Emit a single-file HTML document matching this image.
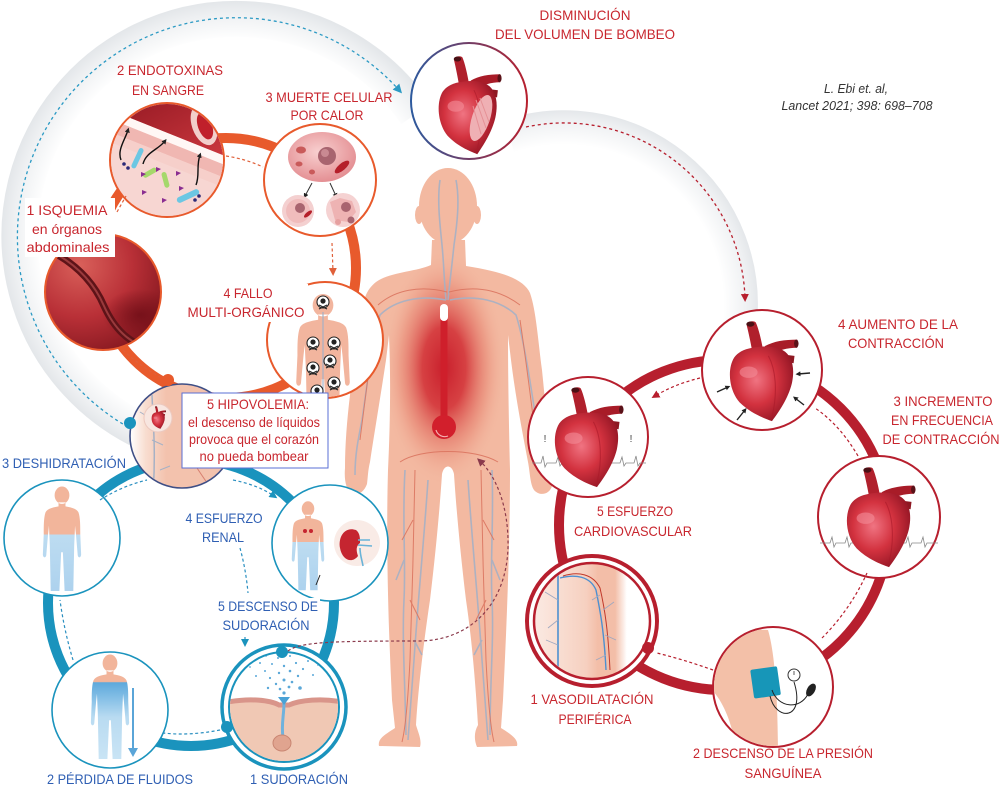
<!DOCTYPE html>
<html><head><meta charset="utf-8"><style>html,body{margin:0;padding:0;background:#fff}svg{display:block}</style></head><body>
<svg width="1000" height="790" viewBox="0 0 1000 790" xmlns="http://www.w3.org/2000/svg" xmlns:xlink="http://www.w3.org/1999/xlink" style="font-family:'Liberation Sans',sans-serif">
<defs>
<radialGradient id="haloL" gradientUnits="userSpaceOnUse" cx="236" cy="236" r="234"><stop offset="0.84" stop-color="#fff"/><stop offset="0.95" stop-color="#eef0f2"/><stop offset="1" stop-color="#e4e7ea"/></radialGradient>
<radialGradient id="haloR" gradientUnits="userSpaceOnUse" cx="564" cy="304" r="194"><stop offset="0.82" stop-color="#fff"/><stop offset="0.95" stop-color="#eef0f2"/><stop offset="1" stop-color="#e4e7ea"/></radialGradient>
<radialGradient id="hg" cx="0.42" cy="0.45" r="0.65"><stop offset="0" stop-color="#f07482"/><stop offset="0.5" stop-color="#d3323f"/><stop offset="1" stop-color="#8e1322"/></radialGradient>
<radialGradient id="glow" cx="0.5" cy="0.5" r="0.5"><stop offset="0" stop-color="#c91f2c"/><stop offset="0.35" stop-color="#d33338" stop-opacity="0.9"/><stop offset="0.7" stop-color="#e57a68" stop-opacity="0.45"/><stop offset="1" stop-color="#f3b9a1" stop-opacity="0"/></radialGradient>
<radialGradient id="isq" gradientUnits="userSpaceOnUse" cx="80" cy="265" r="95"><stop offset="0" stop-color="#d9605a"/><stop offset="0.55" stop-color="#b93037"/><stop offset="1" stop-color="#861820"/></radialGradient>
<radialGradient id="isqd" cx="0.5" cy="0.5" r="0.5"><stop offset="0" stop-color="#6e0d16" stop-opacity="0.8"/><stop offset="1" stop-color="#6e0d16" stop-opacity="0"/></radialGradient>
<radialGradient id="cell" cx="0.45" cy="0.4" r="0.6"><stop offset="0" stop-color="#f8d0d0"/><stop offset="1" stop-color="#e48f93"/></radialGradient>
<linearGradient id="topRing" x1="0" x2="1" y1="0" y2="0"><stop offset="0" stop-color="#2d5a9e"/><stop offset="1" stop-color="#b7202e"/></linearGradient>
<linearGradient id="vessel" x1="0" x2="1" y1="0" y2="1"><stop offset="0" stop-color="#8e1520"/><stop offset="1" stop-color="#cf3a40"/></linearGradient>
<linearGradient id="gDes" x1="0" x2="0" y1="0" y2="1"><stop offset="0" stop-color="#f2b59b"/><stop offset="0.46" stop-color="#f2b59b"/><stop offset="0.46" stop-color="#bddcf1"/><stop offset="1" stop-color="#add2ee"/></linearGradient>
<linearGradient id="gPer" x1="0" x2="0" y1="0" y2="1"><stop offset="0" stop-color="#f2b59b"/><stop offset="0.26" stop-color="#f2b59b"/><stop offset="0.27" stop-color="#5ea9dc"/><stop offset="0.45" stop-color="#8ec4e8"/><stop offset="0.6" stop-color="#b9dbf1"/><stop offset="1" stop-color="#c9e4f5"/></linearGradient>
<linearGradient id="gVas" x1="0" x2="1" y1="0" y2="0"><stop offset="0" stop-color="#fbeae3"/><stop offset="0.45" stop-color="#f6d0c0"/><stop offset="0.55" stop-color="#f3bea8"/><stop offset="0.7" stop-color="#f3bea8"/><stop offset="0.8" stop-color="#fff"/><stop offset="1" stop-color="#fff"/></linearGradient>
<linearGradient id="gHip" x1="0" x2="1" y1="0" y2="0"><stop offset="0" stop-color="#fff"/><stop offset="0.15" stop-color="#f8ddd0"/><stop offset="0.35" stop-color="#f3c2ad"/><stop offset="1" stop-color="#f3c2ad"/></linearGradient>
<marker id="mTeal" viewBox="0 0 10 10" refX="5" refY="5" markerWidth="9" markerHeight="9" orient="auto" markerUnits="userSpaceOnUse"><path d="M0,0 L10,5 L0,10 z" fill="#2b9ac4"/></marker>
<marker id="mBlue" viewBox="0 0 10 10" refX="5" refY="5" markerWidth="8" markerHeight="8" orient="auto" markerUnits="userSpaceOnUse"><path d="M0,0 L10,5 L0,10 z" fill="#1a93bd"/></marker>
<marker id="mRed" viewBox="0 0 10 10" refX="5" refY="5" markerWidth="8" markerHeight="8" orient="auto" markerUnits="userSpaceOnUse"><path d="M0,0 L10,5 L0,10 z" fill="#b71f2e"/></marker>
<marker id="mOr" viewBox="0 0 10 10" refX="5" refY="5" markerWidth="8" markerHeight="8" orient="auto" markerUnits="userSpaceOnUse"><path d="M0,0 L10,5 L0,10 z" fill="#e0603a"/></marker>
<marker id="mDk" viewBox="0 0 10 10" refX="5" refY="5" markerWidth="8" markerHeight="8" orient="auto" markerUnits="userSpaceOnUse"><path d="M0,0 L10,5 L0,10 z" fill="#8b3a4c"/></marker>
<marker id="mBk" viewBox="0 0 10 10" refX="5" refY="5" markerWidth="5" markerHeight="5" orient="auto" markerUnits="userSpaceOnUse"><path d="M0,0 L10,5 L0,10 z" fill="#222"/></marker>
<symbol id="heart" viewBox="0 0 80 125" preserveAspectRatio="none">
 <path d="M28,38 C26,26 24,16 22,7 C21,2 29,0 32,3 C35,10 38,24 40,36 Z" fill="#b0202c"/>
 <ellipse cx="26" cy="5" rx="4.5" ry="3.2" fill="#4a1015"/>
 <path d="M42,32 C52,26 64,24 78,24 L78,34 C66,34 58,37 50,42 Z" fill="#a81c28"/>
 <path d="M60,42 L75,44 L74,53 L62,51 Z" fill="#8e1822"/>
 <ellipse cx="77" cy="29" rx="2.5" ry="5" fill="#5a1218"/>
 <path d="M8,46 C0,60 2,86 14,101 C26,114 40,120 50,124 C58,112 68,96 72,78 C76,58 72,43 62,37 C52,31 38,32 28,34 C18,36 12,40 8,46 Z" fill="url(#hg)"/>
 <ellipse cx="24" cy="64" rx="10" ry="7" fill="#f38c98" opacity="0.6"/>
 <path d="M46,44 C55,62 56,92 50,118" stroke="#a8192a" stroke-width="1.2" fill="none" opacity="0.6"/>
</symbol>
<symbol id="person" viewBox="-23 -10 46 106" preserveAspectRatio="none">
 <path d="M-8.5,0 A8.5,8.5 0 1,0 8.5,0 A8.5,8.5 0 1,0 -8.5,0 Z M-4,7 L4,7 L4,11 C10,12 17,13 19,17 C21,22 21,30 21,38 L22,58 C22,62 18,62 18,58 L16,38 L15,30 L14,50 L13,94 L3,94 L1,56 L-1,56 L-3,94 L-13,94 L-14,50 L-15,30 L-16,38 L-18,58 C-18,62 -22,62 -22,58 L-21,38 C-21,30 -21,22 -19,17 C-17,13 -10,12 -4,11 Z"/>
</symbol>
<clipPath id="cBody">
 <path d="M432,240 L431,265 C415,272 390,272 376,282 C366,290 363,300 362,315 C358,345 353,370 350,395 C347,420 345,445 345,468 C344,480 346,490 352,494 C358,496 364,492 367,484 C368,476 368,470 370,462 C374,435 380,400 386,360 L389,335 C391,380 390,430 388,470 C386,540 388,620 392,700 L395,728 C388,733 377,738 379,746 L420,747 C422,740 418,732 416,725 C418,690 424,640 430,600 C436,550 440,505 442,474 C444,464 452,464 454,474 C456,505 460,550 466,600 C472,640 476,690 478,725 C474,732 474,740 477,747 L517,746 C519,739 509,733 501,728 L503,700 C507,620 510,540 510,470 C509,430 508,380 508,335 L511,360 C516,400 522,430 528,462 C530,472 530,484 534,490 C540,497 550,494 552,486 C553,476 552,468 550,460 C548,430 545,400 542,370 C538,340 536,310 530,293 C524,280 505,272 466,266 L465,240 Z"/>
 <ellipse cx="448" cy="206" rx="29" ry="38"/>
</clipPath>
<clipPath id="cN2"><circle cx="167" cy="160" r="56"/></clipPath>
<clipPath id="cN3"><circle cx="320" cy="180" r="55"/></clipPath>
<clipPath id="cN4"><circle cx="325" cy="340" r="57"/></clipPath>
<clipPath id="cIsq"><circle cx="103" cy="292" r="57"/></clipPath>
<clipPath id="cHip"><circle cx="182" cy="436" r="51"/></clipPath>
<clipPath id="cDes"><circle cx="62" cy="538" r="57"/></clipPath>
<clipPath id="cPer"><circle cx="110" cy="710" r="57"/></clipPath>
<clipPath id="cRen"><circle cx="330" cy="543" r="57"/></clipPath>
<clipPath id="cSud"><circle cx="284" cy="707" r="54"/></clipPath>
<clipPath id="cVas"><circle cx="592" cy="621" r="56.5"/></clipPath>
<clipPath id="cPre"><circle cx="773" cy="687" r="59"/></clipPath>
</defs>

<rect width="1000" height="790" fill="#fff"/>

<!-- halos -->
<path d="M155,437 A217,217 0 1 1 416,114" fill="none" stroke="url(#haloL)" stroke-width="36"/>
<path d="M509,136 A177,177 0 0 1 740,322" fill="none" stroke="url(#haloR)" stroke-width="34"/>

<!-- big dashed arcs -->
<path d="M128,427 A219,219 0 1 1 399,90" fill="none" stroke="#2b9ac4" stroke-width="1.3" stroke-dasharray="3 3" marker-end="url(#mTeal)"/>
<path d="M526,127 A181,181 0 0 1 745,298" fill="none" stroke="#b71f2e" stroke-width="1.3" stroke-dasharray="3 3" marker-end="url(#mRed)"/>

<!-- body -->
<g>
 <path fill="#f3b9a1" d="M432,240 L431,265 C415,272 390,272 376,282 C366,290 363,300 362,315 C358,345 353,370 350,395 C347,420 345,445 345,468 C344,480 346,490 352,494 C358,496 364,492 367,484 C368,476 368,470 370,462 C374,435 380,400 386,360 L389,335 C391,380 390,430 388,470 C386,540 388,620 392,700 L395,728 C388,733 377,738 379,746 L420,747 C422,740 418,732 416,725 C418,690 424,640 430,600 C436,550 440,505 442,474 C444,464 452,464 454,474 C456,505 460,550 466,600 C472,640 476,690 478,725 C474,732 474,740 477,747 L517,746 C519,739 509,733 501,728 L503,700 C507,620 510,540 510,470 C509,430 508,380 508,335 L511,360 C516,400 522,430 528,462 C530,472 530,484 534,490 C540,497 550,494 552,486 C553,476 552,468 550,460 C548,430 545,400 542,370 C538,340 536,310 530,293 C524,280 505,272 466,266 L465,240 Z"/>
 <ellipse cx="448" cy="206" rx="29" ry="38" fill="#f3b9a1"/>
 <ellipse cx="419" cy="215" rx="4" ry="9" fill="#f3b9a1"/>
 <ellipse cx="477" cy="215" rx="4" ry="9" fill="#f3b9a1"/>
 <g clip-path="url(#cBody)">
  <ellipse cx="444" cy="368" rx="62" ry="118" fill="url(#glow)"/>
  <g fill="none" stroke="#a6b1c5" stroke-width="1.6" opacity="0.9">
   <path d="M440,180 C437,200 440,225 442,245 C444,265 444,280 446,300"/>
   <path d="M456,180 C460,200 457,225 454,245 C452,265 450,280 448,300"/>
   <path d="M446,300 C420,295 395,300 380,315 C372,340 368,380 362,420 C358,440 355,455 355,475"/>
   <path d="M450,300 C476,295 500,300 516,315 C524,340 530,380 536,420 C540,440 542,455 542,475"/>
   <path d="M405,470 C402,520 406,560 404,600 C402,640 405,680 406,735"/>
   <path d="M428,480 C424,540 418,600 414,660 C412,690 410,715 408,740"/>
   <path d="M492,470 C494,520 490,560 492,600 C494,640 490,680 490,735"/>
   <path d="M468,480 C472,540 478,600 482,660 C484,690 486,715 488,740"/>
   <path d="M404,560 L396,580 M492,560 L500,580 M414,640 L422,655 M482,640 L474,655"/>
  </g>
  <g fill="none" stroke="#db7560" stroke-width="1" opacity="0.9">
   <path d="M447,292 C420,285 395,290 378,305"/>
   <path d="M449,292 C476,285 500,290 520,305"/>
   <path d="M376,320 C370,360 365,400 360,440"/>
   <path d="M520,320 C526,360 531,400 536,440"/>
   <path d="M400,462 C420,448 475,448 498,462"/>
   <path d="M415,470 C414,530 412,600 410,660 C408,700 405,730 402,742"/>
   <path d="M481,470 C482,530 484,600 486,660 C488,700 491,730 494,742"/>
   <path d="M413,520 L402,540 M483,520 L494,540 M410,600 L420,620 M486,600 L476,620"/>
  </g>
 </g>
 <!-- thermometer -->
 <rect x="440.5" y="316" width="7" height="106" fill="#cf1f2b"/>
 <rect x="440" y="304" width="8" height="17" rx="4" fill="#fff"/>
 <circle cx="444" cy="427" r="12" fill="#d21f2c"/>
 <path d="M436,430 A9,9 0 0 0 448,436" fill="none" stroke="#f6b0b0" stroke-width="1.2"/>
</g>

<!-- rings -->
<circle cx="226" cy="268" r="130" fill="none" stroke="#e85a2c" stroke-width="10"/>
<circle cx="191" cy="603" r="143" fill="none" stroke="#1a93bd" stroke-width="10"/>
<circle cx="724" cy="525" r="165" fill="none" stroke="#b71f2e" stroke-width="10"/>

<!-- ===== orange cycle nodes ===== -->
<circle cx="167" cy="160" r="57" fill="#f4cdc9" stroke="#e85a2c" stroke-width="2"/>
<g clip-path="url(#cN2)">
 <rect x="108" y="100" width="120" height="120" fill="#f7d6d2"/>
 <polygon points="105,90 235,90 235,160 105,108" fill="url(#vessel)"/>
 <polygon points="105,108 235,160 235,169 105,117" fill="#fff7f5"/>
 <polygon points="105,117 235,169 235,182 105,130" fill="#f0b7b2"/>
 <polygon points="105,130 235,182 235,192 105,140" fill="#f6cfca"/>
 <ellipse cx="204" cy="125" rx="12" ry="21" transform="rotate(-20 204 125)" fill="#f2cfcb"/>
 <ellipse cx="205" cy="126" rx="7" ry="14" transform="rotate(-20 205 126)" fill="#c0202b"/>
 <rect x="135" y="147" width="5" height="22" rx="2.5" transform="rotate(25 137 158)" fill="#6cc7e3"/>
 <rect x="176" y="193" width="24" height="6" rx="3" transform="rotate(-25 188 196)" fill="#6cc7e3"/>
 <rect x="142" y="170" width="15" height="5" rx="2.5" transform="rotate(-30 150 172)" fill="#a5d86b"/>
 <rect x="163" y="172" width="5" height="16" rx="2.5" transform="rotate(-15 165 180)" fill="#a5d86b"/>
 <g fill="#8a2e91"><path d="M141,172 l5,2 l-5,3z"/><path d="M156,167 l5,2 l-5,3z"/><path d="M176,171 l5,2 l-5,3z"/><path d="M142,190 l5,2 l-5,3z"/><path d="M162,198 l5,2 l-5,3z"/><path d="M179,186 l5,2 l-5,3z"/></g>
 <g fill="#2b2a78"><circle cx="124" cy="164" r="1.8"/><circle cx="128" cy="168" r="1.8"/><circle cx="195" cy="200" r="1.8"/><circle cx="199" cy="196" r="1.8"/></g>
 <g fill="none" stroke="#111" stroke-width="1.4">
  <path d="M121,160 C117,150 125,140 128,130" marker-end="url(#mBk)"/>
  <path d="M143,164 C146,152 158,150 165,141" marker-end="url(#mBk)"/>
  <path d="M196,185 C200,175 196,166 200,155" marker-end="url(#mBk)"/>
 </g>
</g>
<circle cx="320" cy="180" r="56" fill="#fff" stroke="#e85a2c" stroke-width="2"/>
<g clip-path="url(#cN3)">
 <ellipse cx="322" cy="157" rx="34" ry="25" fill="url(#cell)"/>
 <circle cx="327" cy="156" r="9" fill="#a8646f"/>
 <circle cx="325" cy="153" r="4" fill="#c98a92"/>
 <ellipse cx="301" cy="150" rx="5" ry="3.5" fill="#c95a5a"/>
 <ellipse cx="299" cy="164" rx="3.5" ry="2.5" fill="#c95a5a"/>
 <ellipse cx="312" cy="172" rx="3" ry="2.5" fill="#c95a5a"/>
 <ellipse cx="342" cy="167" rx="9" ry="3.5" transform="rotate(-40 342 167)" fill="#b51f2a"/>
 <g stroke="#333" stroke-width="1" fill="none"><path d="M312,183 L305,196" marker-end="url(#mBk)"/><path d="M330,183 L336,196" marker-end="url(#mBk)"/></g>
 <circle cx="298" cy="211" r="16" fill="#f4d0d0"/>
 <circle cx="298" cy="211" r="12" fill="#f0bcbc"/>
 <circle cx="300" cy="208" r="5" fill="#a8646f"/>
 <ellipse cx="308" cy="214" rx="5" ry="2" transform="rotate(-40 308 214)" fill="#b51f2a"/>
 <circle cx="343" cy="210" r="17" fill="#f5d2d2"/>
 <path d="M330,202 L340,198 L352,201 L356,212 L348,222 L335,220 Z" fill="#eeb3b3"/>
 <circle cx="346" cy="207" r="5" fill="#a8646f"/>
 <circle cx="338" cy="222" r="3" fill="#e6a0a0"/><circle cx="351" cy="220" r="3.5" fill="#a8646f"/>
</g>
<circle cx="103" cy="292" r="58" fill="url(#isq)" stroke="#e85a2c" stroke-width="2"/>
<g clip-path="url(#cIsq)">
 <ellipse cx="140" cy="315" rx="38" ry="26" fill="url(#isqd)"/>
 <path d="M58,255 C80,268 95,285 104,306 C114,328 128,343 152,350" fill="none" stroke="#5e1318" stroke-width="7"/>
 <path d="M58,255 C80,268 95,285 104,306 C114,328 128,343 152,350" fill="none" stroke="#9a3a3c" stroke-width="2"/>
</g>
<circle cx="325" cy="340" r="58" fill="#fff" stroke="#e85a2c" stroke-width="2"/>
<g clip-path="url(#cN4)">
 <use href="#person" xlink:href="#person" x="295" y="292" width="56" height="140" fill="#f2b59e"/>
 <path d="M323,312 L323,400" stroke="#a6b1c5" stroke-width="1.2" fill="none"/>
 <g stroke="#222" stroke-width="1.1">
  <g fill="#fff"><circle cx="323" cy="302" r="6"/><circle cx="313" cy="343" r="6"/><circle cx="334" cy="343" r="6"/><circle cx="330" cy="361" r="6"/><circle cx="313" cy="368" r="6"/><circle cx="334" cy="383" r="6"/><circle cx="317" cy="391" r="6"/></g>
 </g>
 <g fill="#222"><circle cx="323" cy="301" r="2.6"/><circle cx="313" cy="342" r="2.6"/><circle cx="334" cy="342" r="2.6"/><circle cx="330" cy="360" r="2.6"/><circle cx="313" cy="367" r="2.6"/><circle cx="334" cy="382" r="2.6"/><circle cx="317" cy="390" r="2.6"/></g>
 <g stroke="#222" stroke-width="1.2"><path d="M319,305 l8,4 M327,305 l-8,4"/><path d="M309,346 l8,4 M317,346 l-8,4"/><path d="M330,346 l8,4 M338,346 l-8,4"/><path d="M326,364 l8,4 M334,364 l-8,4"/><path d="M309,371 l8,4 M317,371 l-8,4"/><path d="M330,386 l8,4 M338,386 l-8,4"/></g>
</g>
<circle cx="182" cy="436" r="52" fill="url(#gHip)" stroke="#3f4f86" stroke-width="1.6"/>
<g clip-path="url(#cHip)">
 <path d="M152,395 C153,420 156,450 153,495" stroke="#a6b1c5" stroke-width="1.5" fill="none"/>
 <path d="M140,412 L150,418 M152,440 L163,445 M160,470 L170,466" stroke="#a6b1c5" stroke-width="1" fill="none"/>
 <path d="M192,460 C198,470 205,480 212,490" stroke="#d88070" stroke-width="1" fill="none"/>
 <circle cx="158" cy="418" r="14" fill="#f8e6e0" stroke="#ecc9bf"/>
 <use href="#heart" xlink:href="#heart" x="151" y="406" width="15" height="23"/>
</g>

<!-- ===== blue cycle nodes ===== -->
<circle cx="62" cy="538" r="58" fill="#fff" stroke="#1a93bd" stroke-width="1.6"/>
<g clip-path="url(#cDes)"><use href="#person" xlink:href="#person" x="42" y="485" width="40" height="108" fill="url(#gDes)"/></g>
<circle cx="110" cy="710" r="58" fill="#fff" stroke="#1a93bd" stroke-width="1.6"/>
<g clip-path="url(#cPer)">
 <use href="#person" xlink:href="#person" x="90" y="653" width="40" height="108" fill="url(#gPer)"/>
 <path d="M133,688 L133,750" stroke="#5aa5d8" stroke-width="2"/>
 <path d="M128,748 L138,748 L133,757 Z" fill="#5aa5d8"/>
</g>
<circle cx="330" cy="543" r="58" fill="#fff" stroke="#1a93bd" stroke-width="1.6"/>
<g clip-path="url(#cRen)">
 <use href="#person" xlink:href="#person" x="291" y="500" width="34" height="92" fill="url(#gDes)"/>
 <circle cx="305" cy="531" r="2" fill="#c52530"/><circle cx="311" cy="531" r="2" fill="#c52530"/>
 <path d="M316,585 L320,575" stroke="#222" stroke-width="1"/>
 <circle cx="357" cy="543" r="23" fill="#f9ebe6"/>
 <path d="M356,530 C344,526 338,538 340,548 C342,560 352,564 358,556 C356,550 356,546 360,543 C360,538 360,533 356,530 Z" fill="#c52530"/>
 <path d="M358,540 L370,540 M358,545 L372,546 M360,548 C360,555 362,560 363,566" stroke="#69b3d8" stroke-width="1.6" fill="none"/>
</g>
<circle cx="284" cy="707" r="62" fill="#fff" stroke="#1a93bd" stroke-width="3.5"/>
<circle cx="284" cy="707" r="55" fill="#fff" stroke="#1a93bd" stroke-width="2"/>
<g clip-path="url(#cSud)">
 <path d="M228,700 C250,696 270,698 279,703 L289,703 C300,698 322,696 342,700 L342,770 L228,770 Z" fill="#f0c8b4"/>
 <path d="M228,702 C250,698 270,700 279,705 L289,705 C300,700 322,698 342,702" fill="none" stroke="#d9958a" stroke-width="5"/>
 <path d="M284,703 C284,715 281,725 283,737" stroke="#6fb2dd" stroke-width="3" fill="none"/>
 <ellipse cx="282" cy="743" rx="9" ry="8" fill="#e0a48f" stroke="#c98672"/>
 <path d="M278,697 L290,697 L284,705 Z" fill="#4aa2d6"/>
 <g fill="#5ba8d8">
  <circle cx="284" cy="693" r="1.6"/><circle cx="280" cy="689" r="1.3"/><circle cx="289" cy="687" r="1.4"/><circle cx="276" cy="684" r="1.2"/><circle cx="292" cy="682" r="1.3"/><circle cx="284" cy="680" r="1.5"/><circle cx="270" cy="678" r="1.1"/><circle cx="298" cy="676" r="1.2"/><circle cx="279" cy="673" r="1.2"/><circle cx="290" cy="671" r="1.3"/><circle cx="265" cy="671" r="1"/><circle cx="303" cy="669" r="1.1"/><circle cx="284" cy="666" r="1.2"/><circle cx="272" cy="664" r="1"/><circle cx="296" cy="663" r="1.1"/><circle cx="260" cy="663" r="1"/><circle cx="308" cy="661" r="1"/><circle cx="278" cy="658" r="1"/><circle cx="290" cy="656" r="1"/><circle cx="266" cy="656" r="0.9"/><circle cx="302" cy="654" r="1"/><circle cx="313" cy="675" r="1"/><circle cx="256" cy="676" r="1"/><circle cx="318" cy="665" r="0.9"/><circle cx="250" cy="667" r="0.9"/><circle cx="300" cy="688" r="1.8"/><circle cx="268" cy="688" r="1.2"/>
 </g>
</g>
<circle cx="130" cy="423" r="6" fill="#1a93bd"/>
<circle cx="282" cy="652" r="6" fill="#1a93bd"/>
<circle cx="227" cy="727" r="6" fill="#1a93bd"/>
<circle cx="168" cy="380" r="6" fill="#e85a2c"/>

<!-- ===== red cycle nodes ===== -->
<circle cx="469" cy="101" r="58" fill="#fff" stroke="url(#topRing)" stroke-width="2"/>
<use href="#heart" xlink:href="#heart" x="436" y="55" width="66" height="100"/>
<ellipse cx="481" cy="118" rx="9" ry="24" transform="rotate(18 481 118)" fill="#efb0b4"/>
<path d="M476,100 L486,128 M480,98 L489,122 M473,106 L481,134" stroke="#e59096" stroke-width="1"/>

<circle cx="762" cy="370" r="60" fill="#fff" stroke="#b71f2e" stroke-width="2"/>
<use href="#heart" xlink:href="#heart" x="727" y="320" width="72" height="102"/>
<g stroke="#222" stroke-width="1.4" fill="none">
 <path d="M810,373 L798,374" marker-end="url(#mBk)"/>
 <path d="M717,392 L728,387" marker-end="url(#mBk)"/>
 <path d="M804,405 L795,398" marker-end="url(#mBk)"/>
 <path d="M737,420 L745,410" marker-end="url(#mBk)"/>
</g>

<circle cx="588" cy="437" r="60" fill="#fff" stroke="#b71f2e" stroke-width="2"/>
<polyline points="532,463 541,463 543,456 545,467 547,463 556,463 558,457 560,466 562,463 620,463 622,457 624,466 626,463 634,463 636,456 638,466 640,463 646,463" fill="none" stroke="#888" stroke-width="0.8"/>
<use href="#heart" xlink:href="#heart" x="552" y="386" width="72" height="102"/>
<text x="545" y="442" font-size="10" fill="#444" text-anchor="middle">!</text>
<text x="631" y="442" font-size="10" fill="#444" text-anchor="middle">!</text>

<circle cx="879" cy="517" r="61" fill="#fff" stroke="#b71f2e" stroke-width="2"/>
<polyline points="820,543 830,543 832,537 834,547 836,543 845,543 847,537 849,547 851,543 906,543 908,537 910,547 912,543 921,543 923,537 925,547 927,543 938,543" fill="none" stroke="#888" stroke-width="0.8"/>
<use href="#heart" xlink:href="#heart" x="844" y="466" width="72" height="102"/>

<circle cx="592" cy="621" r="65" fill="#fff" stroke="#b71f2e" stroke-width="4"/>
<circle cx="592" cy="621" r="58" fill="url(#gVas)" stroke="#b71f2e" stroke-width="2.5"/>
<g clip-path="url(#cVas)" fill="none">
 <path d="M558,565 L558,680" stroke="#4d90d0" stroke-width="1.6"/>
 <path d="M560,578 C575,574 590,576 596,590 C600,610 604,630 606,670" stroke="#4d90d0" stroke-width="1.4"/>
 <path d="M563,576 C578,571 593,574 600,588 C605,610 608,630 610,670" stroke="#c0392b" stroke-width="1"/>
 <path d="M558,600 L545,592 M558,620 L548,628 M558,645 L546,640 M603,610 L614,602 M605,635 L616,640 M606,655 L596,660 M600,595 L592,600" stroke="#9fa8c0" stroke-width="0.9"/>
</g>
<circle cx="648" cy="648" r="6" fill="#b71f2e"/>

<circle cx="773" cy="687" r="60" fill="#fff" stroke="#b71f2e" stroke-width="2"/>
<g clip-path="url(#cPre)">
 <path d="M710,628 L768,630 C774,650 778,690 778,760 L738,760 C734,730 726,705 712,690 Z" fill="#f3c0a8"/>
 <rect x="752" y="668" width="27" height="29" rx="2" transform="rotate(-8 765 682)" fill="#1796b8"/>
 <path d="M772,690 C778,708 800,710 808,694" fill="none" stroke="#222" stroke-width="1"/>
 <path d="M770,696 C776,722 806,720 794,682" fill="none" stroke="#222" stroke-width="1"/>
 <circle cx="794" cy="675" r="6" fill="#fff" stroke="#333" stroke-width="1"/>
 <path d="M794,675 L794,671" stroke="#333" stroke-width="0.8"/>
 <ellipse cx="811" cy="690" rx="4" ry="7" transform="rotate(30 811 690)" fill="#222"/>
</g>

<!-- ===== small dashed connectors ===== -->
<g fill="none" stroke-width="1.2" stroke-dasharray="3 2.5">
 <path d="M117,212 L126,196" stroke="#e0603a"/>
 <path d="M226,156 Q246,159 263,167" stroke="#e0603a"/>
 <path d="M332,243 L333,272" stroke="#e0603a" marker-end="url(#mOr)"/>
 <path d="M123,350 Q140,366 160,377" stroke="#e0603a"/>
 <path d="M100,500 Q122,486 147,480" stroke="#2a8fc0"/>
 <path d="M233,480 Q258,485 274,496" stroke="#2a8fc0" marker-end="url(#mBlue)"/>
 <path d="M240,548 Q246,570 248,593" stroke="#2a8fc0"/>
 <path d="M245,637 L245,643" stroke="#2a8fc0" marker-end="url(#mBlue)"/>
 <path d="M220,730 Q190,736 163,733" stroke="#2a8fc0"/>
 <path d="M73,660 Q64,630 60,600" stroke="#2a8fc0"/>
 <path d="M700,378 Q675,384 655,396" stroke="#b71f2e" marker-end="url(#mRed)"/>
 <path d="M858,456 Q840,425 815,408" stroke="#b71f2e"/>
 <path d="M822,638 Q850,610 867,573" stroke="#b71f2e"/>
 <path d="M713,670 Q685,660 657,653" stroke="#b71f2e"/>
 <path d="M288,651 C300,642 330,641 420,641 C470,640 506,605 508,548 C509,505 495,475 480,461" stroke="#8b3a4c" marker-end="url(#mDk)"/>
</g>

<!-- label backgrounds -->
<rect x="25" y="198" width="90" height="59" fill="#fff"/>
<rect x="185" y="284" width="123" height="38" fill="#fff"/>
<rect x="216" y="598" width="104" height="36" fill="#fff"/>
<rect x="182" y="393" width="146" height="75" fill="#fff" stroke="#5a6fd4" stroke-width="1"/>

<!-- ===== labels ===== -->
<g font-size="14" text-anchor="middle">
<g fill="#c8262e">
 <text x="585" y="20" textLength="91" lengthAdjust="spacingAndGlyphs">DISMINUCIÓN</text>
 <text x="585" y="39" textLength="180" lengthAdjust="spacingAndGlyphs">DEL VOLUMEN DE BOMBEO</text>
 <text x="170" y="75" textLength="106" lengthAdjust="spacingAndGlyphs">2 ENDOTOXINAS</text>
 <text x="168" y="95" textLength="72" lengthAdjust="spacingAndGlyphs">EN SANGRE</text>
 <text x="329" y="102" textLength="127" lengthAdjust="spacingAndGlyphs">3 MUERTE CELULAR</text>
 <text x="327" y="120" textLength="73" lengthAdjust="spacingAndGlyphs">POR CALOR</text>
 <text x="67" y="215" textLength="81" lengthAdjust="spacingAndGlyphs">1 ISQUEMIA</text>
 <text x="67" y="234" textLength="70" lengthAdjust="spacingAndGlyphs">en órganos</text>
 <text x="68" y="252" textLength="83" lengthAdjust="spacingAndGlyphs">abdominales</text>
 <text x="248" y="298" textLength="49" lengthAdjust="spacingAndGlyphs">4 FALLO</text>
 <text x="246" y="317" textLength="117" lengthAdjust="spacingAndGlyphs">MULTI-ORGÁNICO</text>
 <text x="258" y="409" textLength="102" lengthAdjust="spacingAndGlyphs">5 HIPOVOLEMIA:</text>
 <text x="254" y="427" textLength="132" lengthAdjust="spacingAndGlyphs">el descenso de líquidos</text>
 <text x="254" y="444" textLength="130" lengthAdjust="spacingAndGlyphs">provoca que el corazón</text>
 <text x="254" y="461" textLength="109" lengthAdjust="spacingAndGlyphs">no pueda bombear</text>
 <text x="898" y="329" textLength="120" lengthAdjust="spacingAndGlyphs">4 AUMENTO DE LA</text>
 <text x="896" y="348" textLength="96" lengthAdjust="spacingAndGlyphs">CONTRACCIÓN</text>
 <text x="943" y="406" textLength="99" lengthAdjust="spacingAndGlyphs">3 INCREMENTO</text>
 <text x="942" y="425" textLength="102" lengthAdjust="spacingAndGlyphs">EN FRECUENCIA</text>
 <text x="941" y="444" textLength="117" lengthAdjust="spacingAndGlyphs">DE CONTRACCIÓN</text>
 <text x="635" y="516" textLength="76" lengthAdjust="spacingAndGlyphs">5 ESFUERZO</text>
 <text x="633" y="536" textLength="118" lengthAdjust="spacingAndGlyphs">CARDIOVASCULAR</text>
 <text x="592" y="704" textLength="123" lengthAdjust="spacingAndGlyphs">1 VASODILATACIÓN</text>
 <text x="595" y="724" textLength="73" lengthAdjust="spacingAndGlyphs">PERIFÉRICA</text>
 <text x="783" y="758" textLength="180" lengthAdjust="spacingAndGlyphs">2 DESCENSO DE LA PRESIÓN</text>
 <text x="783" y="778" textLength="77" lengthAdjust="spacingAndGlyphs">SANGUÍNEA</text>
</g>
<g fill="#2f5fb3">
 <text x="64" y="468" textLength="124" lengthAdjust="spacingAndGlyphs">3 DESHIDRATACIÓN</text>
 <text x="224" y="523" textLength="77" lengthAdjust="spacingAndGlyphs">4 ESFUERZO</text>
 <text x="223" y="542" textLength="42" lengthAdjust="spacingAndGlyphs">RENAL</text>
 <text x="268" y="611" textLength="100" lengthAdjust="spacingAndGlyphs">5 DESCENSO DE</text>
 <text x="266" y="630" textLength="87" lengthAdjust="spacingAndGlyphs">SUDORACIÓN</text>
 <text x="120" y="784" textLength="146" lengthAdjust="spacingAndGlyphs">2 PÉRDIDA DE FLUIDOS</text>
 <text x="299" y="784" textLength="98" lengthAdjust="spacingAndGlyphs">1 SUDORACIÓN</text>
</g>
<g fill="#333" font-style="italic" font-size="13">
 <text x="856" y="93" textLength="64" lengthAdjust="spacingAndGlyphs">L. Ebi et. al,</text>
 <text x="857" y="110" textLength="151" lengthAdjust="spacingAndGlyphs">Lancet 2021; 398: 698–708</text>
</g>
</g>
</svg>
</body></html>
